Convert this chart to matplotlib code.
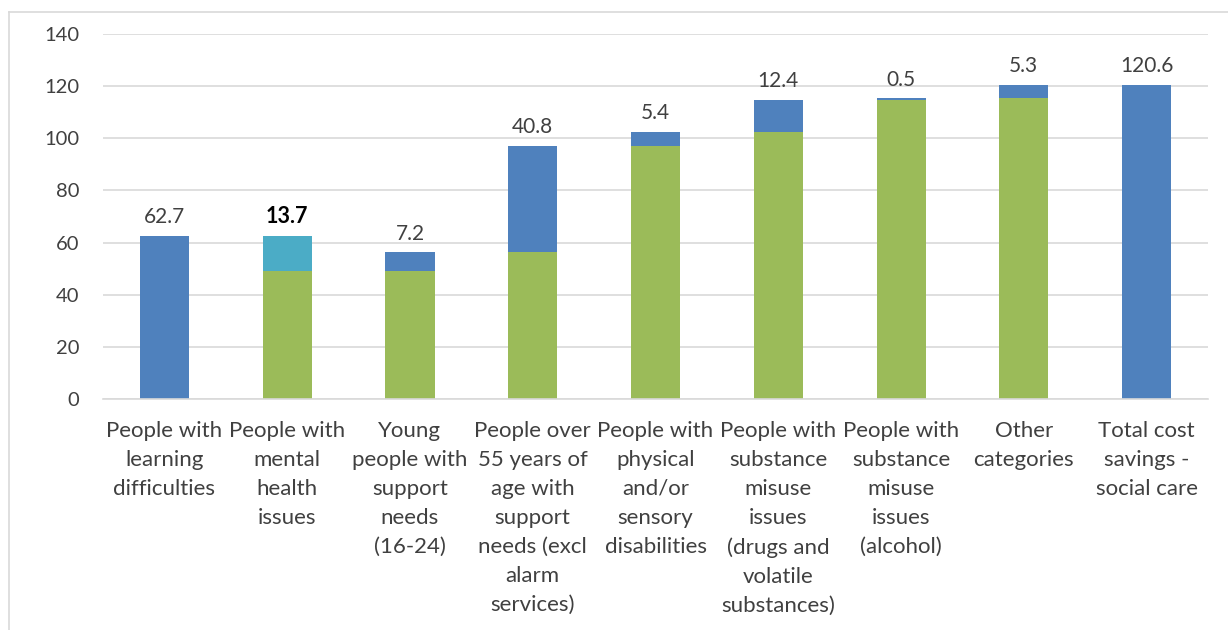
import matplotlib
matplotlib.use("Agg")
import matplotlib.pyplot as plt
from matplotlib.lines import Line2D
import numpy as np

categories = [
    "People with\nlearning\ndifficulties",
    "People with\nmental\nhealth\nissues",
    "Young\npeople with\nsupport\nneeds\n(16-24)",
    "People over\n55 years of\nage with\nsupport\nneeds (excl\nalarm\nservices)",
    "People with\nphysical\nand/or\nsensory\ndisabilities",
    "People with\nsubstance\nmisuse\nissues\n(drugs and\nvolatile\nsubstances)",
    "People with\nsubstance\nmisuse\nissues\n(alcohol)",
    "Other\ncategories",
    "Total cost\nsavings -\nsocial care",
]
changes = [62.7, -13.7, 7.2, 40.8, 5.4, 12.4, 0.5, 5.3]
total = 120.6
y_ticks = [0, 20, 40, 60, 80, 100, 120, 140]

BLUE = "#4F81BD"
GREEN = "#9BBB59"
TEAL = "#4BACC6"
TXT = "#404040"

plt.rcParams['font.family'] = ['Lato', 'DejaVu Sans']

fig = plt.figure(figsize=(12.28, 6.3), dpi=100)
ax = fig.add_axes([103/1228, 1-399/630, (1208-103)/1228, (399-34)/630])

x = np.arange(len(categories))
w = 0.4
gap = 3.4
cum = 0.0
for i, c in enumerate(changes):
    before = cum
    cum = cum + c
    lo, hi = min(before, cum), max(before, cum)
    if i > 0:
        ax.bar(x[i], lo, width=w, color=GREEN, zorder=2)
    ax.bar(x[i], hi - lo, bottom=lo, width=w, color=(BLUE if c >= 0 else TEAL), zorder=2)
    if c < 0:
        ax.text(x[i], hi + gap, f"{abs(c):.1f}", ha="center", va="bottom",
                fontsize=15.5, color="black", fontweight="bold")
    else:
        ax.text(x[i], hi + gap, f"{abs(c):.1f}", ha="center", va="bottom",
                fontsize=15, color=TXT)
ax.bar(x[-1], total, width=w, color=BLUE, zorder=2)
ax.text(x[-1], total + gap, f"{total:.1f}", ha="center", va="bottom", fontsize=15, color=TXT)

ax.set_xlim(-0.5, len(categories) - 0.5)
ax.set_ylim(0, 140)
ax.set_yticks(y_ticks)
ax.set_yticklabels([str(t) for t in y_ticks], fontsize=14.5, color=TXT)
ax.set_xticks(x)
ax.set_xticklabels(categories, fontsize=16.0, color=TXT, linespacing=1.57, va="top")
ax.tick_params(axis="both", length=0)
ax.tick_params(axis="x", pad=15.5)
ax.tick_params(axis="y", pad=17)
ax.grid(axis="y", color="#D9D9D9", linewidth=1.2, zorder=0)
ax.set_axisbelow(True)
for s in ["top", "right", "left"]:
    ax.spines[s].set_visible(False)
ax.spines["bottom"].set_color("#D9D9D9")
ax.spines["bottom"].set_linewidth(1.2)

# outer chart border (left and top visible)
fig.add_artist(Line2D([9/1228, 9/1228], [0, 1-12/630], transform=fig.transFigure, color="#D9D9D9", lw=1.2))
fig.add_artist(Line2D([9/1228, 1], [1-12/630, 1-12/630], transform=fig.transFigure, color="#D9D9D9", lw=1.2))

fig.savefig("out.png", dpi=100)
